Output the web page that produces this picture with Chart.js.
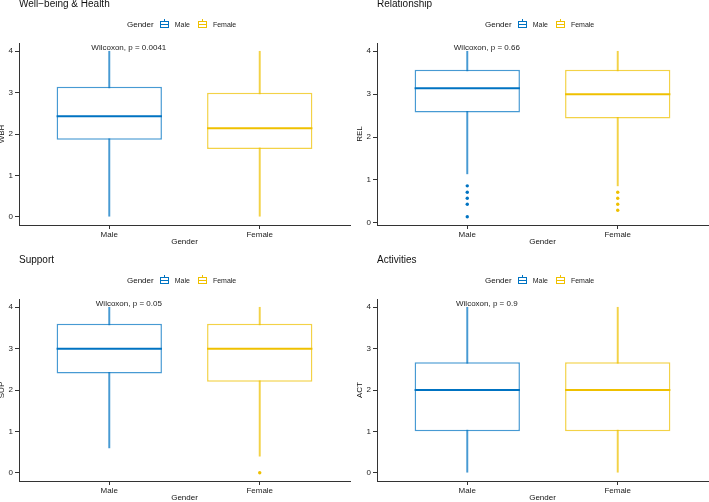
<!DOCTYPE html>
<html>
<head>
<meta charset="utf-8">
<script src="https://cdn.jsdelivr.net/npm/chart.js@4.4.1/dist/chart.umd.min.js"></script>
<style>
  body { margin: 0; width: 709px; height: 502px; overflow: hidden; background: #fff; position: relative;
         font-family: "Liberation Sans", Arial, sans-serif; }
  .panel { position: absolute; width: 357px; height: 256px; }
  .panel canvas { position: absolute; left: 0; top: 0; }
  .ttl { position: absolute; left: 22px; top: 4px; font-size: 10px; line-height: 12px; color: #111; white-space: nowrap; }
  .leg { position: absolute; left: 130px; top: 25px; height: 10px; display: flex; align-items: center;
         font-size: 7px; color: #222; white-space: nowrap; }
  .leg .head { font-size: 8px; margin-right: 6px; color: #111; }
  .key { position: relative; width: 9px; height: 7px; border: 1px solid; box-sizing: border-box; margin-right: 6px; }
  .key:after { content: ''; position: absolute; left: 0; right: 0; top: 2px; border-top: 1px solid; }
  .key:before { content: ''; position: absolute; left: 3px; top: -3px; height: 2px; border-left: 1px solid; }
  .lab { margin-right: 8px; }
</style>
</head>
<body>
<script>
const groups = ['Male', 'Female'];
const groupColors = ['#0073C2', '#EFC000'];
const groupLines = ['rgba(0,115,194,0.72)', 'rgba(239,192,0,0.72)'];
const titles = ['Well−being & Health', 'Relationship', 'Support', 'Activities'];
const yTitles = ['WBH', 'REL', 'SUP', 'ACT'];
const pLabels = ['Wilcoxon, p = 0.0041', 'Wilcoxon, p = 0.66', 'Wilcoxon, p = 0.05', 'Wilcoxon, p = 0.9'];
const yTicks = [0, 1, 2, 3, 4];
const xTicks = [1, 2];

// [lower whisker, q1, median, q3, upper whisker]
const wbhMale = [0, 1.86, 2.43, 3.14, 4];
const wbhFemale = [0, 1.64, 2.14, 3.0, 4];
const relMale = [1.14, 2.57, 3.14, 3.57, 4];
const relFemale = [0.86, 2.43, 3.0, 3.57, 4];
const supMale = [0.6, 2.4, 3.0, 3.6, 4];
const supFemale = [0.4, 2.2, 3.0, 3.6, 4];
const actMale = [0, 1.0, 2.0, 2.67, 4];
const actFemale = [0, 1.0, 2.0, 2.67, 4];

// outliers
const relMaleOut = [0.86, 0.71, 0.57, 0.43, 0.14];
const relFemaleOut = [0.71, 0.57, 0.43, 0.29];
const supFemaleOut = [0];

// where the test label sits (data units)
const labelX = 1.13;
const labelY = 4;

const panelPos = [[-3, -6], [355, -6], [-3, 250], [355, 250]];

// medians and the p-value text, drawn on the chart's own scales
const boxExtras = {
  id: 'boxExtras',
  afterDatasetsDraw(chart, args, opts) {
    const ctx = chart.ctx;
    const xs = chart.scales.x, ys = chart.scales.y;
    const meta = chart.getDatasetMeta(1);
    ctx.save();
    meta.data.forEach(function(bar, k) {
      const py = ys.getPixelForValue(opts.medians[k]);
      ctx.strokeStyle = groupColors[k];
      ctx.lineWidth = 2;
      ctx.beginPath();
      ctx.moveTo(bar.x - bar.width / 2, py);
      ctx.lineTo(bar.x + bar.width / 2, py);
      ctx.stroke();
    });
    ctx.fillStyle = '#222';
    ctx.font = '8px "Liberation Sans", Arial, sans-serif';
    ctx.textAlign = 'center';
    ctx.textBaseline = 'middle';
    ctx.fillText(opts.label, xs.getPixelForValue(labelX), ys.getPixelForValue(labelY) - 3);
    ctx.restore();
  }
};

function makePanel(i, male, female, maleOut, femaleOut) {
  const stats = [male, female];
  const outs = [maleOut, femaleOut];

  const div = document.createElement('div');
  div.className = 'panel';
  div.style.left = panelPos[i][0] + 'px';
  div.style.top = panelPos[i][1] + 'px';
  div.innerHTML =
    '<canvas width="357" height="256"></canvas>' +
    '<div class="ttl">' + titles[i] + '</div>' +
    '<div class="leg"><span class="head">Gender</span>' +
    groups.map((g, k) => '<span class="key" style="color:' + groupColors[k] + '"></span><span class="lab">' + g + '</span>').join('') +
    '</div>';
  document.body.appendChild(div);

  // ggplot-style range: data extent plus 5% each side
  const all = male.concat(female, maleOut, femaleOut);
  const lo = Math.min(...all), hi = Math.max(...all);
  const pad = (hi - lo) * 0.05;

  const outPoints = [], outColors = [];
  outs.forEach((arr, k) => arr.forEach(v => {
    outPoints.push({ x: k + 1, y: v });
    outColors.push(groupColors[k]);
  }));

  const axisFont = { family: '"Liberation Sans", Arial, sans-serif', size: 8 };

  new Chart(div.querySelector('canvas'), {
    type: 'bar',
    data: {
      datasets: [
        {
          label: 'whisker',
          data: groups.map((g, k) => ({ x: k + 1, y: [stats[k][0], stats[k][4]] })),
          backgroundColor: groupLines,
          borderWidth: 0,
          barThickness: 1.3,
          grouped: false,
          order: 2
        },
        {
          label: 'box',
          data: groups.map((g, k) => ({ x: k + 1, y: [stats[k][1], stats[k][3]] })),
          backgroundColor: '#ffffff',
          borderColor: groupLines,
          borderWidth: 1.5,
          borderSkipped: false,
          grouped: false,
          categoryPercentage: 1,
          barPercentage: 0.7,
          order: 1
        },
        {
          type: 'scatter',
          label: 'outliers',
          data: outPoints,
          pointRadius: 1.7,
          pointBorderWidth: 0,
          pointBackgroundColor: outColors,
          order: 0
        }
      ]
    },
    options: {
      responsive: false,
      animation: false,
      devicePixelRatio: 1,
      layout: { padding: { top: 49, right: 4, left: 0, bottom: 0 } },
      plugins: {
        legend: { display: false },
        tooltip: { enabled: false },
        boxExtras: { medians: stats.map(s => s[2]), label: pLabels[i] }
      },
      scales: {
        x: {
          type: 'linear',
          min: 0.4,
          max: 2.6,
          offset: false,
          grid: { display: true, drawOnChartArea: false, drawTicks: true, tickLength: 4, color: '#333', offset: false },
          border: { display: true, color: '#333', width: 1 },
          ticks: { callback: v => groups[v - 1], font: axisFont, color: '#222', padding: 1, maxRotation: 0, autoSkip: false },
          title: { display: true, text: 'Gender', font: axisFont, color: '#111', padding: { top: 0, bottom: 3 } },
          afterBuildTicks: s => { s.ticks = xTicks.map(v => ({ value: v })); },
          afterFit: s => { s.height = 25; }
        },
        y: {
          type: 'linear',
          min: lo - pad,
          max: hi + pad,
          grid: { display: true, drawOnChartArea: false, drawTicks: true, tickLength: 4, color: '#333' },
          border: { display: true, color: '#333', width: 1 },
          ticks: { font: axisFont, color: '#222', padding: 2 },
          title: { display: true, text: yTitles[i], font: axisFont, color: '#111', padding: 0 },
          afterBuildTicks: s => { s.ticks = yTicks.map(v => ({ value: v })); },
          afterFit: s => { s.width = 22; }
        }
      }
    },
    plugins: [boxExtras]
  });
}

makePanel(0, wbhMale, wbhFemale, [], []);
makePanel(1, relMale, relFemale, relMaleOut, relFemaleOut);
makePanel(2, supMale, supFemale, [], supFemaleOut);
makePanel(3, actMale, actFemale, [], []);
</script>
</body>
</html>
